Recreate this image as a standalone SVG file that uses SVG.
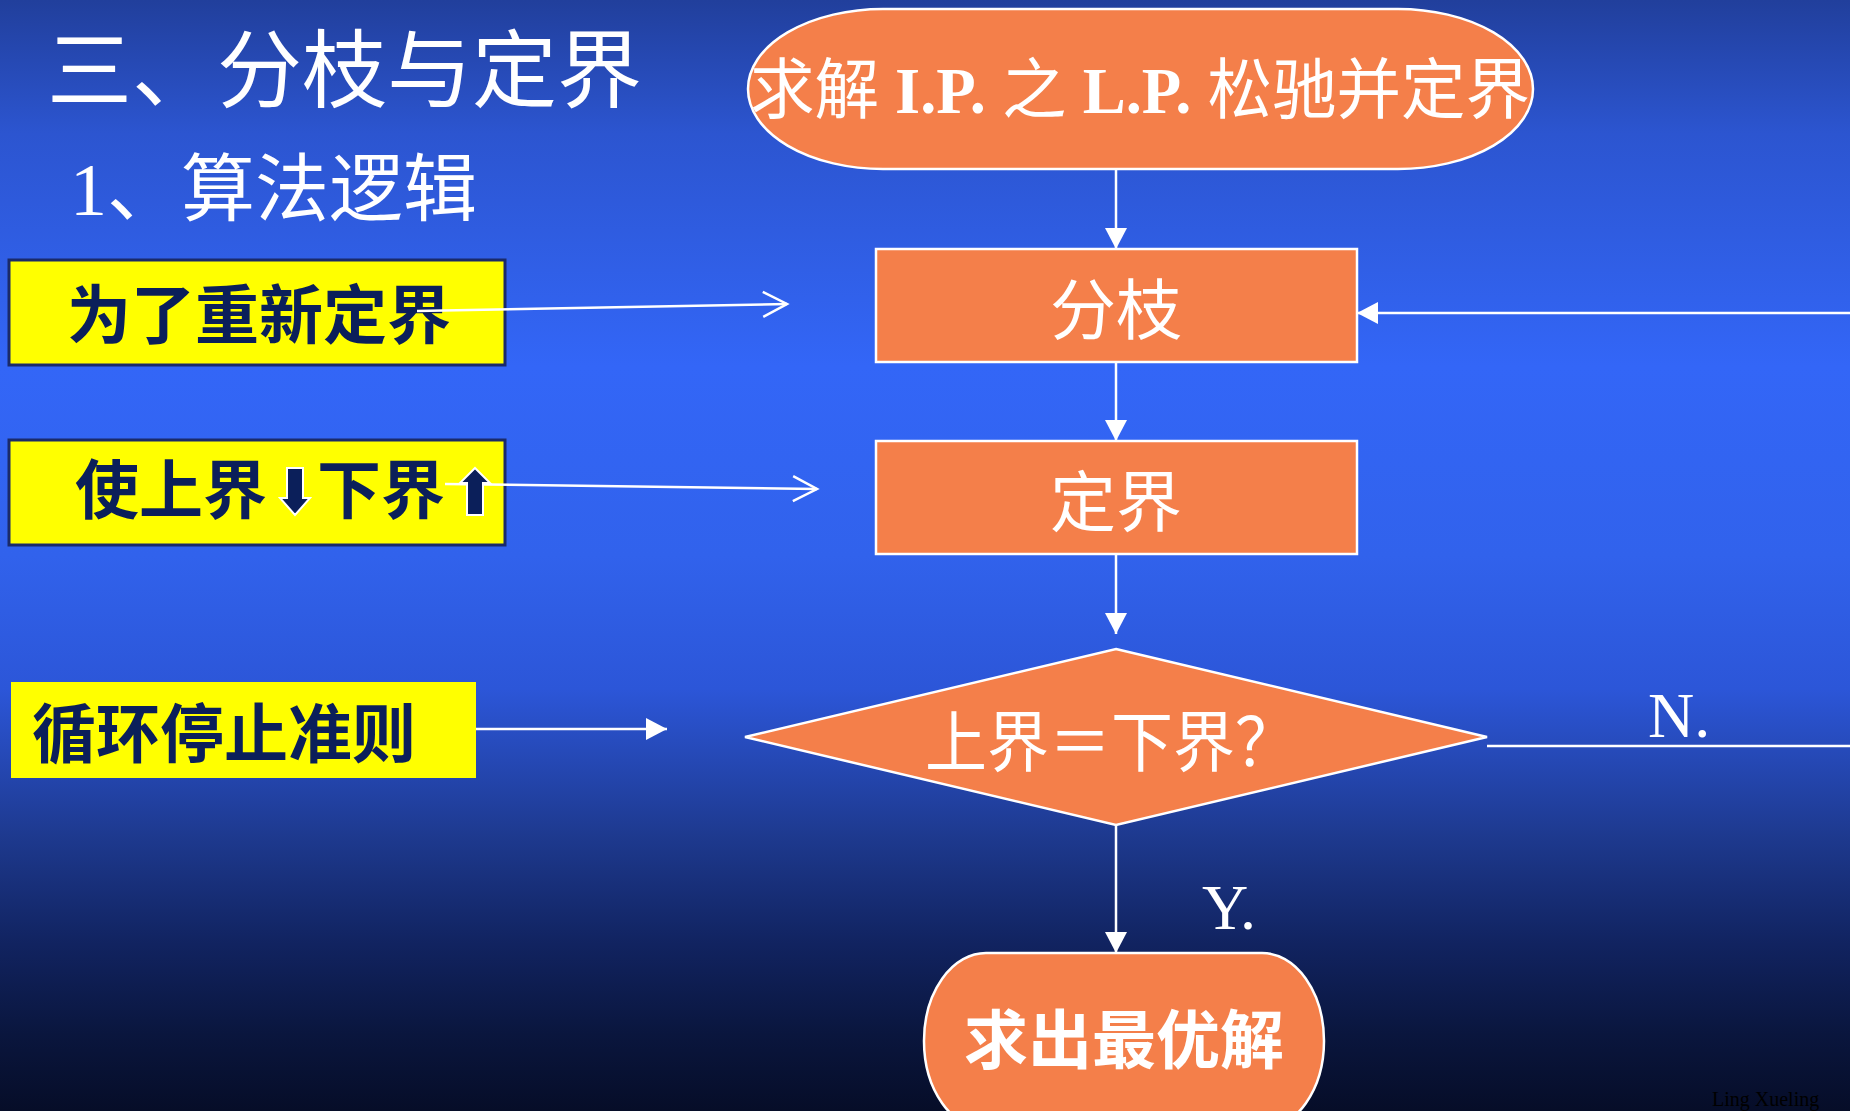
<svg xmlns="http://www.w3.org/2000/svg" width="1850" height="1111" viewBox="0 0 1850 1111">
<defs>
<linearGradient id="bg" x1="0" y1="0" x2="0" y2="1">
<stop offset="0" stop-color="#213f9c"/>
<stop offset="0.12" stop-color="#2c55d0"/>
<stop offset="0.33" stop-color="#3366f7"/>
<stop offset="0.5" stop-color="#3162ec"/>
<stop offset="0.62" stop-color="#2c56d8"/>
<stop offset="0.75" stop-color="#1e3a90"/>
<stop offset="0.85" stop-color="#112360"/>
<stop offset="0.93" stop-color="#0a163e"/>
<stop offset="1" stop-color="#060d28"/>
</linearGradient>
<marker id="tri" markerUnits="userSpaceOnUse" markerWidth="22" markerHeight="22" refX="21" refY="11" orient="auto" overflow="visible">
<path d="M0,0 L21,11 L0,22 z" fill="#ffffff"/>
</marker>
<marker id="open" markerUnits="userSpaceOnUse" markerWidth="28" markerHeight="28" refX="25" refY="12.5" orient="auto" overflow="visible">
<path d="M1,0 L25,12.5 L1,25" fill="none" stroke="#ffffff" stroke-width="2.5"/>
</marker>
</defs>
<style>
.node{fill:#f47f4a;stroke:#ffffff;stroke-width:2.5}
.ntxt{fill:#ffffff;font-family:"Noto Sans CJK SC",sans-serif;text-anchor:middle}
.ybox{fill:#ffff00}
.ybd{stroke:#1a2a6a;stroke-width:3}
.ytxt{fill:#0b1f5a;font-family:"Noto Sans CJK SC",sans-serif;font-weight:700;font-size:64px}
.conn{stroke:#ffffff;stroke-width:2.5;fill:none}
.lbl{fill:#ffffff;font-family:"Liberation Serif",serif;font-size:64px}
.ttl{fill:#ffffff;font-family:"Noto Sans CJK SC",sans-serif}
</style>
<rect x="0" y="0" width="1850" height="1111" fill="url(#bg)"/>

<g id="title">
<text class="ttl" x="47" y="101" font-size="85">三、分枝与定界</text>
<text class="ttl" x="70" y="215" font-size="74"><tspan font-family="Liberation Serif">1</tspan>、算法逻辑</text>
</g>

<g id="node-start">
<rect class="node" x="748" y="9" width="785" height="160" rx="135" ry="80"/>
<text x="750" y="113" font-size="66" fill="#ffffff" font-family="Liberation Serif,Noto Sans CJK SC,sans-serif" textLength="780" lengthAdjust="spacingAndGlyphs">求解 <tspan font-weight="700">I.P.</tspan> 之 <tspan font-weight="700">L.P.</tspan> 松驰并定界</text>
</g>

<g id="node-branch">
<rect class="node" x="876" y="249" width="481" height="113"/>
<text class="ntxt" x="1116" y="334" font-size="66">分枝</text>
</g>

<g id="node-bound">
<rect class="node" x="876" y="441" width="481" height="113"/>
<text class="ntxt" x="1116" y="526" font-size="66">定界</text>
</g>

<g id="node-decision">
<polygon class="node" points="1116,649 1487,737 1116,825 745,737"/>
<text x="925" y="766" font-size="66" fill="#ffffff" font-family="Noto Sans CJK SC,sans-serif" textLength="372" lengthAdjust="spacingAndGlyphs">上界＝下界？</text>
</g>

<g id="node-end">
<rect class="node" x="924" y="953" width="400" height="176" rx="62" ry="88"/>
<text class="ntxt" x="1124" y="1063" font-size="64" font-weight="700">求出最优解</text>
</g>

<g id="note-rebound">
<rect class="ybox ybd" x="9" y="260" width="496" height="105"/>
<text class="ytxt" x="67" y="338">为了重新定界</text>
</g>

<g id="note-bounds">
<rect class="ybox ybd" x="9" y="440" width="496" height="105"/>
<text class="ytxt" x="75" y="513">使上界</text>
<text class="ytxt" x="317" y="513">下界</text>
<polygon points="287,468 303,468 303,498 310,498 295,515 280,498 287,498" fill="#0b1f5a" stroke="#ffffff" stroke-width="2"/>
</g>

<g id="note-stop">
<rect class="ybox" x="11" y="682" width="465" height="96"/>
<text class="ytxt" x="32" y="757">循环停止准则</text>
</g>

<g id="connectors">
<line class="conn" x1="1116" y1="169" x2="1116" y2="249" marker-end="url(#tri)"/>
<line class="conn" x1="1116" y1="362" x2="1116" y2="441" marker-end="url(#tri)"/>
<line class="conn" x1="1116" y1="554" x2="1116" y2="634" marker-end="url(#tri)"/>
<line class="conn" x1="1116" y1="825" x2="1116" y2="953" marker-end="url(#tri)"/>
<line class="conn" x1="1487" y1="746" x2="1850" y2="746"/>
<line class="conn" x1="1850" y1="313" x2="1357" y2="313" marker-end="url(#tri)"/>
<line class="conn" x1="417" y1="311" x2="787" y2="304" marker-end="url(#open)"/>
<line class="conn" x1="445" y1="484" x2="817" y2="489" marker-end="url(#open)"/>
<line class="conn" x1="476" y1="729" x2="667" y2="729" marker-end="url(#tri)"/>
</g>

<g id="up-arrow">
<polygon points="475,468 490,483 483,483 483,515 467,515 467,483 460,483" fill="#0b1f5a" stroke="#ffffff" stroke-width="2"/>
</g>

<g id="labels">
<text class="lbl" x="1648" y="737">N.</text>
<text class="lbl" x="1202" y="929">Y.</text>
<text x="1712" y="1106" font-family="Liberation Serif,serif" font-size="20" fill="#000000">Ling Xueling</text>
</g>
</svg>
